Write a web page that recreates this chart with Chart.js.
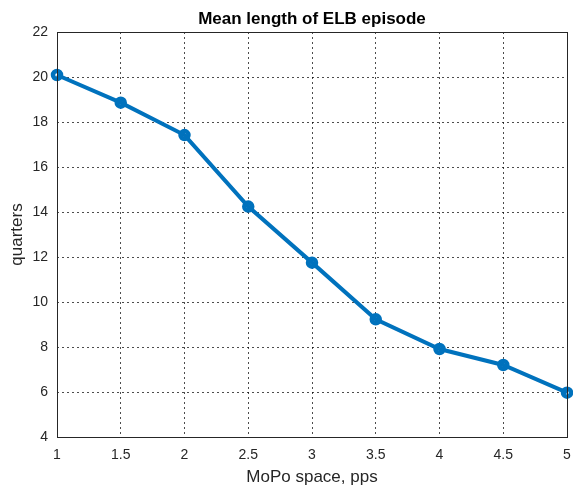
<!DOCTYPE html>
<html>
<head>
<meta charset="utf-8">
<script src="https://cdn.jsdelivr.net/npm/chart.js@4"></script>
<style>
  html, body { margin: 0; padding: 0; background: #fff; overflow: hidden; }
  #wrap { width: 573px; height: 492px; position: relative; }
</style>
</head>
<body>
<div id="wrap"><canvas id="elbChart"></canvas></div>
<script>
// mean length of ELB episode vs monetary policy space
const mopoSpace = [1, 1.5, 2, 2.5, 3, 3.5, 4, 4.5, 5];
const meanLength = [20.09, 18.86, 17.42, 14.24, 11.75, 9.23, 7.91, 7.2, 5.97];
const yTicks = [4, 6, 8, 10, 12, 14, 16, 18, 20, 22];

const FONT = '"Liberation Sans", Arial, Helvetica, sans-serif';
const TEXT = '#262626';
const BLUE = '#0072BD';

// draws the full box around the plot area, like matlab's "box on"
const boxPlugin = {
    id: 'boxPlugin',
    afterDatasetsDraw(chart) {
        const {ctx, chartArea} = chart;
        ctx.save();
        ctx.strokeStyle = TEXT;
        ctx.lineWidth = 1;
        ctx.setLineDash([]);
        ctx.strokeRect(chartArea.left + 0.5, chartArea.top + 0.5,
            chartArea.right - chartArea.left, chartArea.bottom - chartArea.top);
        ctx.restore();
    }
};

const points = mopoSpace.map((x, i) => ({x: x, y: meanLength[i]}));

const ctx = document.getElementById('elbChart');
const chart = new Chart(ctx, {
    type: 'line',
    data: {
        datasets: [{
            label: 'Mean length',
            data: points,
            borderColor: BLUE,
            borderWidth: 4,
            pointRadius: 4,
            pointBorderWidth: 4.5,
            pointBorderColor: BLUE,
            pointBackgroundColor: 'rgba(0,0,0,0)',
            tension: 0,
            clip: false
        }]
    },
    options: {
        responsive: true,
        maintainAspectRatio: false,
        animation: false,
        // no auto padding for the markers, the last point sits on the right edge
        layout: { autoPadding: false, padding: { left: 0, right: 6, top: 0, bottom: 0 } },
        plugins: {
            legend: { display: false },
            tooltip: { enabled: false },
            title: {
                display: true,
                fullSize: false,   // centre over the plot area, not the canvas
                text: 'Mean length of ELB episode',
                color: '#000',
                font: { family: FONT, size: 17, weight: 'bold', lineHeight: 1.2 },
                padding: { top: 9, bottom: 2.6 }
            }
        },
        scales: {
            x: {
                type: 'linear',
                min: 1,
                max: 5,
                afterFit: scale => {
                    scale.height = 55;
                    scale.paddingLeft = 0;
                    scale.paddingRight = 0;
                },
                ticks: {
                    stepSize: 0.5,
                    color: TEXT,
                    padding: 10,
                    maxRotation: 0,
                    font: { family: FONT, size: 14 },
                    callback: value => String(value)
                },
                grid: {
                    color: 'rgba(0,0,0,0.7)',
                    lineWidth: 1,
                    drawTicks: false
                },
                border: { display: false, dash: [2, 3] },
                title: {
                    display: true,
                    text: 'MoPo space, pps',
                    color: TEXT,
                    font: { family: FONT, size: 17 },
                    padding: { top: 0, bottom: 4 }
                }
            },
            y: {
                min: 4,
                max: 22,
                afterFit: scale => { scale.width = 57; },
                afterBuildTicks: scale => { scale.ticks = yTicks.map(v => ({value: v})); },
                ticks: {
                    color: TEXT,
                    padding: 9,
                    font: { family: FONT, size: 14 }
                },
                grid: {
                    color: 'rgba(0,0,0,0.7)',
                    lineWidth: 1,
                    drawTicks: false
                },
                border: { display: false, dash: [2, 3] },
                title: {
                    display: true,
                    text: 'quarters',
                    color: TEXT,
                    font: { family: FONT, size: 17 },
                    padding: { top: 7, bottom: 0 }
                }
            }
        }
    },
    plugins: [boxPlugin]
});
</script>
</body>
</html>
